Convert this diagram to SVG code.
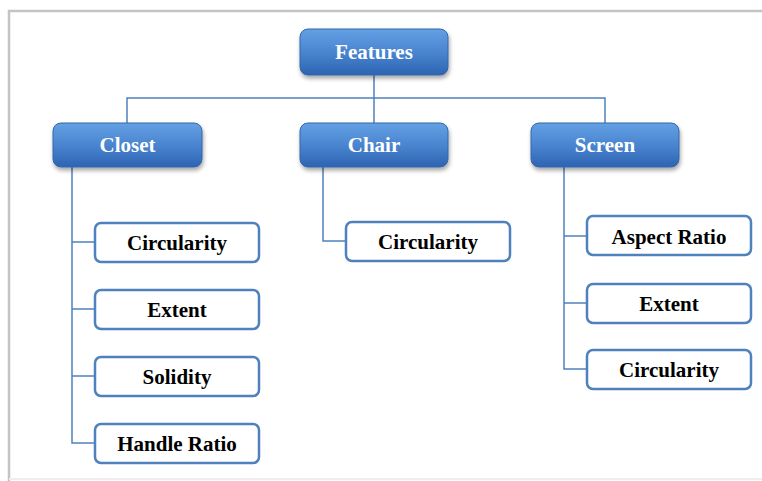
<svg xmlns="http://www.w3.org/2000/svg" width="762" height="481" viewBox="0 0 762 481">
<style>
.page{fill:#fff}
.frame{stroke:#c4c4c4;stroke-width:2.5;fill:none}
.conn{stroke:#4f81bd;stroke-width:1.5;fill:none}
.top{fill:url(#bg);stroke:#3566a8;stroke-width:1;filter:url(#sh)}
.leaf{fill:#fff;stroke:#4f81bd;stroke-width:2.5}
.tw{font-family:"Liberation Serif","Times New Roman",serif;font-weight:bold;font-size:21px;fill:#fff;text-anchor:middle}
.tb{font-family:"Liberation Serif","Times New Roman",serif;font-weight:bold;font-size:21px;fill:#000;text-anchor:middle}
</style>
<defs>
<linearGradient id="bg" x1="0" y1="0" x2="0" y2="1">
<stop offset="0" stop-color="#64a0e4"/>
<stop offset="0.5" stop-color="#4a85d0"/>
<stop offset="1" stop-color="#2d64b2"/>
</linearGradient>
<filter id="sh" x="-10%" y="-10%" width="125%" height="140%">
<feDropShadow dx="1" dy="3" stdDeviation="2" flood-color="#000" flood-opacity="0.35"/>
</filter>
</defs>
<rect class="page" x="0" y="0" width="762" height="481"/>
<path class="frame" d="M9 481 V11 H762"/>
<line x1="9" y1="479" x2="762" y2="479" stroke="#eeeeee" stroke-width="2"/>
<g id="connectors">
<path class="conn" d="M374 75 V98 M127 123 V98 H605 V123 M374 98 V123"/>
<path class="conn" d="M72 167 V443 H95 M72 242 H95 M72 309 H95 M72 376 H95"/>
<path class="conn" d="M323 167 V241 H346"/>
<path class="conn" d="M564 167 V369 H587 M564 236 H587 M564 303 H587"/>
</g>
<g id="features"><rect class="top" x="300" y="29" width="148" height="46" rx="8"/><text class="tw" x="374" y="59">Features</text></g>
<g id="closet"><rect class="top" x="53" y="123" width="149" height="44" rx="8"/><text class="tw" x="127.5" y="152">Closet</text></g>
<g id="chair"><rect class="top" x="300" y="123" width="148" height="44" rx="8"/><text class="tw" x="374" y="152">Chair</text></g>
<g id="screen"><rect class="top" x="531" y="123" width="148" height="44" rx="8"/><text class="tw" x="605" y="152">Screen</text></g>
<g id="closet-circularity"><rect class="leaf" x="95" y="223" width="164" height="39" rx="6"/><text class="tb" x="177" y="250">Circularity</text></g>
<g id="closet-extent"><rect class="leaf" x="95" y="290" width="164" height="39" rx="6"/><text class="tb" x="177" y="317">Extent</text></g>
<g id="closet-solidity"><rect class="leaf" x="95" y="357" width="164" height="39" rx="6"/><text class="tb" x="177" y="384">Solidity</text></g>
<g id="closet-handle"><rect class="leaf" x="95" y="424" width="164" height="39" rx="6"/><text class="tb" x="177" y="451">Handle Ratio</text></g>
<g id="chair-circularity"><rect class="leaf" x="346" y="222" width="164" height="39" rx="6"/><text class="tb" x="428" y="249">Circularity</text></g>
<g id="screen-aspect"><rect class="leaf" x="587" y="216" width="164" height="39" rx="6"/><text class="tb" x="669" y="244">Aspect Ratio</text></g>
<g id="screen-extent"><rect class="leaf" x="587" y="284" width="164" height="39" rx="6"/><text class="tb" x="669" y="311">Extent</text></g>
<g id="screen-circularity"><rect class="leaf" x="587" y="350" width="164" height="39" rx="6"/><text class="tb" x="669" y="377">Circularity</text></g>
</svg>
